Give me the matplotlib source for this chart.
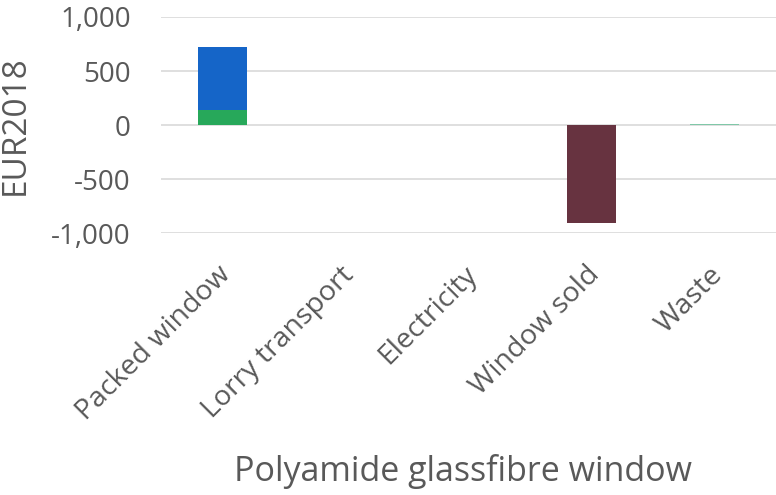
import matplotlib.pyplot as plt
import matplotlib.transforms as mtransforms
import numpy as np

categories = ["Packed window", "Lorry transport", "Electricity", "Window sold", "Waste"]
materials = [140, 0, 0, 0, 0]
production = [585, 0, 0, 0, 0]
sold = [0, 0, 0, -905, 0]
waste = [0, 0, 0, 0, 6]
yticks = [-1000, -500, 0, 500, 1000]

plt.rcParams['font.family'] = ['Open Sans', 'DejaVu Sans']
grey = '#595959'

fig = plt.figure(figsize=(7.76, 4.95), dpi=100)
ax = fig.add_axes([0.208, 0.529, 0.792, 0.4367])

x = np.arange(len(categories))
w = 0.4
ax.bar(x, materials, w, color='#27a85a', zorder=3)
ax.bar(x, production, w, bottom=materials, color='#1565c8', zorder=3)
ax.bar(x, sold, w, color='#673340', zorder=3)
ax.bar(x, waste, w, color='#80c8a8', zorder=3)

ax.set_xlim(-0.5, len(categories) - 0.5)
ax.set_ylim(-1000, 1000)
ax.set_yticks(yticks)
ax.set_yticklabels([f"{v:,}" for v in yticks])
ax.yaxis.grid(True, color='#d9d9d9', linewidth=1.2, zorder=0)
for s in ax.spines.values():
    s.set_visible(False)
ax.tick_params(axis='y', length=0, pad=22, labelsize=20, labelcolor=grey)
ax.tick_params(axis='x', length=0, pad=20, labelsize=20.5, labelcolor=grey)
ax.set_xticks(x)
ax.set_xticklabels(categories, rotation=45, ha='right', rotation_mode='anchor')
shift = mtransforms.ScaledTranslation(-6 / 100, 0, fig.dpi_scale_trans)
for lbl in ax.get_xticklabels():
    lbl.set_transform(lbl.get_transform() + shift)
ax.set_ylabel("EUR2018", fontsize=24, color=grey, labelpad=14)
ax.set_xlabel("Polyamide glassfibre window", fontsize=24.5, color=grey)
ax.xaxis.set_label_coords(0.49, -1.02)

fig.savefig("out.png", dpi=100)
